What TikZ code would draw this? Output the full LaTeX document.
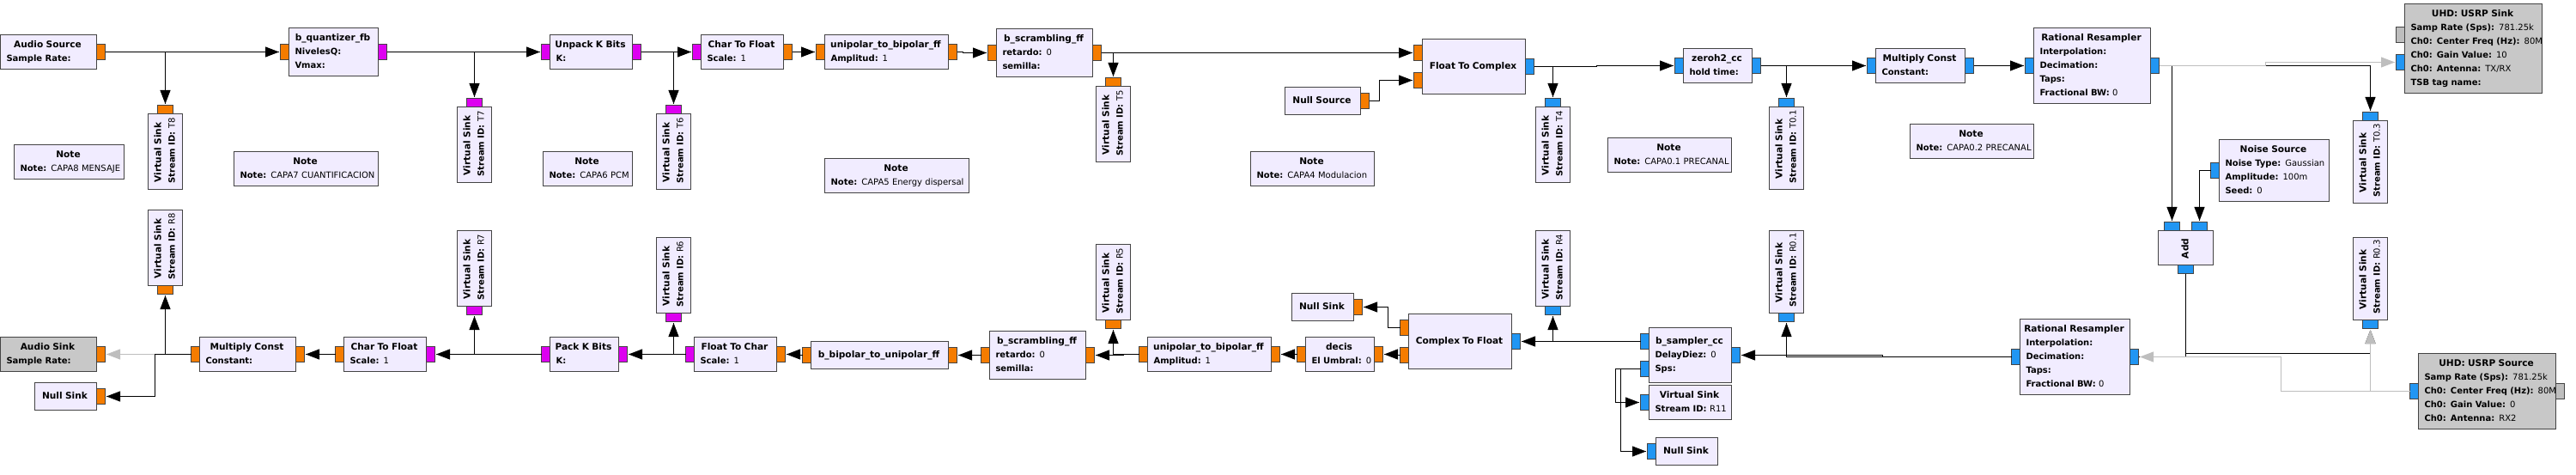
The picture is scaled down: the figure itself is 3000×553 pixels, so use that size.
\documentclass[tikz,border=0pt]{standalone}
\usepackage{fontspec}
\setmainfont{DejaVu Sans}
\usetikzlibrary{shapes,arrows.meta,decorations.markings}
\definecolor{blockColor}{HTML}{F1ECFF}
\definecolor{disabledColor}{HTML}{C8C8C8}
\definecolor{borderColor}{HTML}{444444}
\definecolor{floatColor}{HTML}{F57C00}
\definecolor{byteColor}{HTML}{DD00F0}
\definecolor{complexColor}{HTML}{2196F3}
\definecolor{msgColor}{HTML}{BEBEBE}
\definecolor{wireGrey}{HTML}{BEBEBE}
\newcommand{\blocktitle}[1]{\makebox[\hsize]{\fontsize{10.6}{16}\selectfont\strut\bfseries #1\hspace{2pt}}}
\newcommand{\param}[2]{\mbox{\strut\textbf{#1} #2}}
\tikzstyle{block}=[rectangle, draw=borderColor, fill=blockColor, line width=1pt, inner sep=0pt, outer sep=0pt, align=left, font=\fontsize{10}{16}\selectfont]
\tikzstyle{offblock}=[block, fill=disabledColor]
\tikzstyle{port}=[rectangle, draw=borderColor, line width=1pt, inner sep=0pt, outer sep=0pt, minimum width=10pt, minimum height=18pt]
\tikzstyle{floatport}=[port, fill=floatColor]
\tikzstyle{byteport}=[port, fill=byteColor]
\tikzstyle{complexport}=[port, fill=complexColor]
\tikzstyle{msgport}=[port, fill=msgColor]
\tikzstyle{arrow} = [line width=1pt, shorten >=1.5pt, decoration={markings,mark=at position -1.5pt with
	{\arrow{Triangle[length=16pt,width=12pt]}}},postaction={decorate}]
\tikzset{boxsize/.style 2 args={minimum width=#1pt, minimum height=#2pt, text width=#1pt-14pt}}
\begin{document}
\begin{tikzpicture} [node distance=100pt]
			\useasboundingbox (0,0) rectangle (3000pt,-553pt);
			
			% transmit row
			\node (audioSource) [block, boxsize={112}{40}] at (56.5pt,-60.5pt) {\blocktitle{Audio Source}\\\param{Sample Rate:}{}};
			\node (bQuantizer) [block, boxsize={104}{56}, right of=audioSource, xshift=232pt] {\blocktitle{b\_quantizer\_fb}\\\param{NivelesQ:}{}\\\param{Vmax:}{}};
			\node (unpackK) [block, boxsize={96}{40}, right of=bQuantizer, xshift=200pt] {\blocktitle{Unpack K Bits}\\\param{K:}{}};
			\node (charFloatT) [block, boxsize={96}{40}, right of=unpackK, xshift=76pt] {\blocktitle{Char To Float}\\\param{Scale:}{1}};
			\node (uniBipT) [block, boxsize={144}{40}, right of=charFloatT, xshift=68pt] {\blocktitle{unipolar\_to\_bipolar\_ff}\\\param{Amplitud:}{1}};
			\node (scrambT) [block, boxsize={112}{56}, right of=uniBipT, xshift=84pt, yshift=-1pt] {\blocktitle{b\_scrambling\_ff}\\\param{retardo:}{0}\\\param{semilla:}{}};
			\node (nullSource) [block, boxsize={88}{32}, right of=scrambT, xshift=224pt, yshift=-56pt] {\blocktitle{Null Source}};
			\node (floatComplex) [block, boxsize={120}{64}, right of=scrambT, xshift=400pt, yshift=-16pt] {\blocktitle{Float To Complex}};
			\node (zeroh) [block, boxsize={80}{40}, right of=floatComplex, xshift=184pt, yshift=1pt] {\blocktitle{zeroh2\_cc}\\\param{hold time:}{}};
			\node (multT) [block, boxsize={104}{40}, right of=zeroh, xshift=136pt] {\blocktitle{Multiply Const}\\\param{Constant:}{}};
			\node (resampT) [block, boxsize={136}{88}, right of=multT, xshift=100pt] {\blocktitle{Rational Resampler}\\\param{Interpolation:}{}\\\param{Decimation:}{}\\\param{Taps:}{}\\\param{Fractional BW:}{0}};
			\node (usrpSink) [offblock, boxsize={160}{104}, right of=resampT, xshift=344pt, yshift=20pt] {\blocktitle{UHD: USRP Sink}\\\param{Samp Rate (Sps):}{781.25k}\\\param{Ch0: Center Freq (Hz):}{80M}\\\param{Ch0: Gain Value:}{10}\\\param{Ch0: Antenna:}{TX/RX}\\\param{TSB tag name:}{}};
			\node (noise) [block, boxsize={128}{72}, right of=resampT, xshift=112pt, yshift=-122pt] {\blocktitle{Noise Source}\\\param{Noise Type:}{Gaussian}\\\param{Amplitude:}{100m}\\\param{Seed:}{0}};
			\node (add) [block, boxsize={40}{64}, below of=noise, xshift=-103pt, yshift=10pt, rotate=90] {\blocktitle{Add}};
			
			% transmit probes
			\node (vsT8) [block, boxsize={88}{40}, below of=audioSource, xshift=136pt, yshift=-16pt, rotate=90] {\blocktitle{Virtual Sink}\\\param{Stream ID:}{T8}};
			\node (vsT7) [block, boxsize={88}{40}, below of=bQuantizer, xshift=164pt, yshift=-8pt, rotate=90] {\blocktitle{Virtual Sink}\\\param{Stream ID:}{T7}};
			\node (vsT6) [block, boxsize={88}{40}, below of=unpackK, xshift=96pt, yshift=-16pt, rotate=90] {\blocktitle{Virtual Sink}\\\param{Stream ID:}{T6}};
			\node (vsT5) [block, boxsize={88}{40}, below of=scrambT, xshift=80pt, yshift=17pt, rotate=90] {\blocktitle{Virtual Sink}\\\param{Stream ID:}{T5}};
			\node (vsT4) [block, boxsize={88}{40}, below of=floatComplex, xshift=92pt, yshift=9pt, rotate=90] {\blocktitle{Virtual Sink}\\\param{Stream ID:}{T4}};
			\node (vsT01) [block, boxsize={96}{40}, below of=zeroh, xshift=80pt, yshift=4pt, rotate=90] {\blocktitle{Virtual Sink}\\\param{Stream ID:}{T0.1}};
			\node (vsT03) [block, boxsize={96}{40}, below of=usrpSink, xshift=-120pt, yshift=-32pt, rotate=90] {\blocktitle{Virtual Sink}\\\param{Stream ID:}{T0.3}};
			
			% receive probes
			\node (vsR8) [block, boxsize={88}{40}, below of=vsT8, yshift=-12pt, rotate=90] {\blocktitle{Virtual Sink}\\\param{Stream ID:}{R8}};
			\node (vsR7) [block, boxsize={88}{40}, below of=vsT7, yshift=-44pt, rotate=90] {\blocktitle{Virtual Sink}\\\param{Stream ID:}{R7}};
			\node (vsR6) [block, boxsize={88}{40}, below of=vsT6, yshift=-44pt, rotate=90] {\blocktitle{Virtual Sink}\\\param{Stream ID:}{R6}};
			\node (vsR5) [block, boxsize={88}{40}, below of=vsT5, yshift=-84pt, rotate=90] {\blocktitle{Virtual Sink}\\\param{Stream ID:}{R5}};
			\node (vsR4) [block, boxsize={88}{40}, below of=vsT4, yshift=-44pt, rotate=90] {\blocktitle{Virtual Sink}\\\param{Stream ID:}{R4}};
			\node (vsR01) [block, boxsize={96}{40}, below of=vsT01, yshift=-44pt, rotate=90] {\blocktitle{Virtual Sink}\\\param{Stream ID:}{R0.1}};
			\node (vsR03) [block, boxsize={96}{40}, below of=vsT03, yshift=-36pt, rotate=90] {\blocktitle{Virtual Sink}\\\param{Stream ID:}{R0.3}};
			
			% receive row
			\node (audioSink) [offblock, boxsize={112}{40}, below of=audioSource, yshift=-252pt] {\blocktitle{Audio Sink}\\\param{Sample Rate:}{}};
			\node (nullSinkA) [block, boxsize={72}{32}, below of=audioSink, xshift=20pt, yshift=51pt] {\blocktitle{Null Sink}};
			\node (multB) [block, boxsize={112}{40}, right of=audioSink, xshift=132pt] {\blocktitle{Multiply Const}\\\param{Constant:}{}};
			\node (charFloatB) [block, boxsize={96}{40}, right of=multB, xshift=60pt] {\blocktitle{Char To Float}\\\param{Scale:}{1}};
			\node (packK) [block, boxsize={80}{40}, right of=charFloatB, xshift=132pt] {\blocktitle{Pack K Bits}\\\param{K:}{}};
			\node (floatChar) [block, boxsize={96}{40}, right of=packK, xshift=76pt] {\blocktitle{Float To Char}\\\param{Scale:}{1}};
			\node (biUni) [block, boxsize={160}{32}, right of=floatChar, xshift=68pt, yshift=-1pt] {\blocktitle{b\_bipolar\_to\_unipolar\_ff}};
			\node (scrambB) [block, boxsize={112}{56}, right of=biUni, xshift=84pt] {\blocktitle{b\_scrambling\_ff}\\\param{retardo:}{0}\\\param{semilla:}{}};
			\node (uniBipB) [block, boxsize={144}{40}, right of=scrambB, xshift=100pt, yshift=1pt] {\blocktitle{unipolar\_to\_bipolar\_ff}\\\param{Amplitud:}{1}};
			\node (decis) [block, boxsize={80}{40}, right of=uniBipB, xshift=52pt] {\blocktitle{decis}\\\param{El Umbral:}{0}};
			\node (nullSinkB) [block, boxsize={72}{32}, above of=decis, xshift=-20pt, yshift=-45pt] {\blocktitle{Null Sink}};
			\node (complexFloat) [block, boxsize={120}{64}, right of=decis, xshift=40pt, yshift=15pt] {\blocktitle{Complex To Float}};
			\node (sampler) [block, boxsize={96}{64}, right of=complexFloat, xshift=168pt, yshift=-16pt] {\blocktitle{b\_sampler\_cc}\\\param{DelayDiez:}{0}\\\param{Sps:}{}};
			\node (vsR11) [block, boxsize={96}{40}, below of=sampler, yshift=45pt] {\blocktitle{Virtual Sink}\\\param{Stream ID:}{R11}};
			\node (nullSinkC) [block, boxsize={72}{32}, below of=vsR11, xshift=-4pt, yshift=43pt] {\blocktitle{Null Sink}};
			\node (resampB) [block, boxsize={128}{88}, right of=sampler, xshift=348pt, yshift=-2pt] {\blocktitle{Rational Resampler}\\\param{Interpolation:}{}\\\param{Decimation:}{}\\\param{Taps:}{}\\\param{Fractional BW:}{0}};
			\node (usrpSource) [offblock, boxsize={160}{88}, right of=resampB, xshift=380pt, yshift=-40pt] {\blocktitle{UHD: USRP Source}\\\param{Samp Rate (Sps):}{781.25k}\\\param{Ch0: Center Freq (Hz):}{80M}\\\param{Ch0: Gain Value:}{0}\\\param{Ch0: Antenna:}{RX2}};
			
			% notes
			\node (note8) [block, boxsize={128}{40}, below of=audioSource, xshift=24pt, yshift=-28pt] {\blocktitle{Note}\\\param{Note:}{CAPA8 MENSAJE}};
			\node (note7) [block, boxsize={168}{40}, below of=bQuantizer, xshift=-32pt, yshift=-36pt] {\blocktitle{Note}\\\param{Note:}{CAPA7 CUANTIFICACION}};
			\node (note6) [block, boxsize={104}{40}, below of=unpackK, xshift=-4pt, yshift=-36pt] {\blocktitle{Note}\\\param{Note:}{CAPA6 PCM}};
			\node (note5) [block, boxsize={168}{40}, below of=uniBipT, xshift=12pt, yshift=-44pt] {\blocktitle{Note}\\\param{Note:}{CAPA5 Energy dispersal}};
			\node (note4) [block, boxsize={144}{40}, below of=nullSource, xshift=-12pt, yshift=21pt] {\blocktitle{Note}\\\param{Note:}{CAPA4 Modulacion}};
			\node (note01) [block, boxsize={144}{40}, below of=zeroh, xshift=-56pt, yshift=-4pt] {\blocktitle{Note}\\\param{Note:}{CAPA0.1 PRECANAL}};
			\node (note02) [block, boxsize={144}{40}, below of=multT, xshift=60pt, yshift=12pt] {\blocktitle{Note}\\\param{Note:}{CAPA0.2 PRECANAL}};
			
			% ports of the transmit row
			\node (audioSourceOut) [floatport, anchor=west] at (audioSource.east) {};
			\node (bQuantizerIn) [floatport, anchor=east] at (bQuantizer.west) {};
			\node (bQuantizerOut) [byteport, anchor=west] at (bQuantizer.east) {};
			\node (unpackKIn) [byteport, anchor=east] at (unpackK.west) {};
			\node (unpackKOut) [byteport, anchor=west] at (unpackK.east) {};
			\node (charFloatTIn) [byteport, anchor=east] at (charFloatT.west) {};
			\node (charFloatTOut) [floatport, anchor=west] at (charFloatT.east) {};
			\node (uniBipTIn) [floatport, anchor=east] at (uniBipT.west) {};
			\node (uniBipTOut) [floatport, anchor=west] at (uniBipT.east) {};
			\node (scrambTIn) [floatport, anchor=east] at (scrambT.west) {};
			\node (scrambTOut) [floatport, anchor=west] at (scrambT.east) {};
			\node (nullSourceOut) [floatport, anchor=west] at (nullSource.east) {};
			\node (floatComplexInA) [floatport, anchor=east] at ([yshift=16pt]floatComplex.west) {};
			\node (floatComplexInB) [floatport, anchor=east] at ([yshift=-16pt]floatComplex.west) {};
			\node (floatComplexOut) [complexport, anchor=west] at (floatComplex.east) {};
			\node (zerohIn) [complexport, anchor=east] at (zeroh.west) {};
			\node (zerohOut) [complexport, anchor=west] at (zeroh.east) {};
			\node (multTIn) [complexport, anchor=east] at (multT.west) {};
			\node (multTOut) [complexport, anchor=west] at (multT.east) {};
			\node (resampTIn) [complexport, anchor=east] at (resampT.west) {};
			\node (resampTOut) [complexport, anchor=west] at (resampT.east) {};
			\node (usrpSinkMsg) [msgport, anchor=east] at ([yshift=16pt]usrpSink.west) {};
			\node (usrpSinkIn) [complexport, anchor=east] at ([yshift=-16pt]usrpSink.west) {};
			\node (noiseOut) [complexport, anchor=east] at (noise.west) {};
			\node (addInA) [complexport, rotate=90, anchor=west] at ([xshift=-16pt]add.east) {};
			\node (addInB) [complexport, rotate=90, anchor=west] at ([xshift=16pt]add.east) {};
			\node (addOut) [complexport, rotate=90, anchor=east] at (add.west) {};
			
			% ports of the probes
			\node (vsT8In) [floatport, rotate=90, anchor=west] at (vsT8.east) {};
			\node (vsT7In) [byteport, rotate=90, anchor=west] at (vsT7.east) {};
			\node (vsT6In) [byteport, rotate=90, anchor=west] at (vsT6.east) {};
			\node (vsT5In) [floatport, rotate=90, anchor=west] at (vsT5.east) {};
			\node (vsT4In) [complexport, rotate=90, anchor=west] at (vsT4.east) {};
			\node (vsT01In) [complexport, rotate=90, anchor=west] at (vsT01.east) {};
			\node (vsT03In) [complexport, rotate=90, anchor=west] at (vsT03.east) {};
			\node (vsR8In) [floatport, rotate=90, anchor=east] at (vsR8.west) {};
			\node (vsR7In) [byteport, rotate=90, anchor=east] at (vsR7.west) {};
			\node (vsR6In) [byteport, rotate=90, anchor=east] at (vsR6.west) {};
			\node (vsR5In) [floatport, rotate=90, anchor=east] at (vsR5.west) {};
			\node (vsR4In) [complexport, rotate=90, anchor=east] at (vsR4.west) {};
			\node (vsR01In) [complexport, rotate=90, anchor=east] at (vsR01.west) {};
			\node (vsR03In) [complexport, rotate=90, anchor=east] at (vsR03.west) {};
			
			% ports of the receive row
			\node (audioSinkIn) [floatport, anchor=west] at (audioSink.east) {};
			\node (nullSinkAIn) [floatport, anchor=west] at (nullSinkA.east) {};
			\node (multBOut) [floatport, anchor=east] at (multB.west) {};
			\node (multBIn) [floatport, anchor=west] at (multB.east) {};
			\node (charFloatBOut) [floatport, anchor=east] at (charFloatB.west) {};
			\node (charFloatBIn) [byteport, anchor=west] at (charFloatB.east) {};
			\node (packKOut) [byteport, anchor=east] at (packK.west) {};
			\node (packKIn) [byteport, anchor=west] at (packK.east) {};
			\node (floatCharOut) [byteport, anchor=east] at (floatChar.west) {};
			\node (floatCharIn) [floatport, anchor=west] at (floatChar.east) {};
			\node (biUniOut) [floatport, anchor=east] at (biUni.west) {};
			\node (biUniIn) [floatport, anchor=west] at (biUni.east) {};
			\node (scrambBOut) [floatport, anchor=east] at (scrambB.west) {};
			\node (scrambBIn) [floatport, anchor=west] at (scrambB.east) {};
			\node (uniBipBOut) [floatport, anchor=east] at (uniBipB.west) {};
			\node (uniBipBIn) [floatport, anchor=west] at (uniBipB.east) {};
			\node (decisOut) [floatport, anchor=east] at (decis.west) {};
			\node (decisIn) [floatport, anchor=west] at (decis.east) {};
			\node (nullSinkBIn) [floatport, anchor=west] at (nullSinkB.east) {};
			\node (complexFloatOutA) [floatport, anchor=east] at ([yshift=16pt]complexFloat.west) {};
			\node (complexFloatOutB) [floatport, anchor=east] at ([yshift=-16pt]complexFloat.west) {};
			\node (complexFloatIn) [complexport, anchor=west] at (complexFloat.east) {};
			\node (samplerOutA) [complexport, anchor=east] at ([yshift=16pt]sampler.west) {};
			\node (samplerOutB) [complexport, anchor=east] at ([yshift=-16pt]sampler.west) {};
			\node (samplerIn) [complexport, anchor=west] at (sampler.east) {};
			\node (vsR11In) [complexport, anchor=east] at (vsR11.west) {};
			\node (nullSinkCIn) [complexport, anchor=east] at (nullSinkC.west) {};
			\node (resampBOut) [complexport, anchor=east] at (resampB.west) {};
			\node (resampBIn) [complexport, anchor=west] at (resampB.east) {};
			\node (usrpSourceOut) [complexport, anchor=east] at (usrpSource.west) {};
			\node (usrpSourceMsg) [msgport, anchor=west] at (usrpSource.east) {};
			
			% transmit connections
			\draw [arrow] (audioSourceOut.east) -- (bQuantizerIn.west);
			\draw [arrow] (audioSourceOut.east) -| (vsT8In.east);
			\draw [arrow] (bQuantizerOut.east) -- (unpackKIn.west);
			\draw [arrow] (bQuantizerOut.east) -| (vsT7In.east);
			\draw [arrow] (unpackKOut.east) -- (charFloatTIn.west);
			\draw [arrow] (unpackKOut.east) -| (vsT6In.east);
			\draw [arrow] (charFloatTOut.east) -- (uniBipTIn.west);
			\draw [arrow] (uniBipTOut.east) -- ++(7pt,0) |- (scrambTIn.west);
			\draw [arrow] (scrambTOut.east) -- (floatComplexInA.west);
			\draw [arrow] (scrambTOut.east) -| (vsT5In.east);
			\draw [arrow] (nullSourceOut.east) -- ++(12pt,0) |- (floatComplexInB.west);
			\draw [arrow] (floatComplexOut.east) -- ++(72.5pt,0) |- (zerohIn.west);
			\draw [arrow] (floatComplexOut.east) -| (vsT4In.east);
			\draw [arrow] (zerohOut.east) -- (multTIn.west);
			\draw [arrow] (zerohOut.east) -| (vsT01In.east);
			\draw [arrow] (multTOut.east) -- (resampTIn.west);
			\draw [arrow] (resampTOut.east) -| (addInA.east);
			\draw [arrow] (resampTOut.east) -| (vsT03In.east);
			\draw [arrow] (noiseOut.west) -| (addInB.east);
			\draw [arrow, wireGrey] (resampTOut.east) -- ++(124pt,0) |- (usrpSinkIn.west);
			
			% receive connections
			\draw [arrow] (addOut.west) -- ++(0,-93pt) -| (vsR03In.west);
			\draw [line width=1pt] (addOut.west) |- (resampBIn.east);
			\draw [arrow, wireGrey] (usrpSourceOut.west) -| (vsR03In.west);
			\draw [arrow, wireGrey] (usrpSourceOut.west) -- ++(-150pt,0) |- (resampBIn.east);
			\draw [arrow] (resampBOut.west) -- ++(-150pt,0) |- (samplerIn.east);
			\draw [arrow] (resampBOut.west) -| (vsR01In.west);
			\draw [arrow] (samplerOutA.west) -- (complexFloatIn.east);
			\draw [arrow] (samplerOutA.west) -| (vsR4In.west);
			\draw [arrow] (samplerOutB.west) -- ++(-29pt,0) |- (vsR11In.west);
			\draw [arrow] (samplerOutB.west) -- ++(-23pt,0) |- (nullSinkCIn.west);
			\draw [arrow] (complexFloatOutA.west) -- ++(-14pt,0) |- (nullSinkBIn.east);
			\draw [arrow] (complexFloatOutB.west) -- ++(-3pt,0) |- (decisIn.east);
			\draw [arrow] (decisOut.west) -- (uniBipBIn.east);
			\draw [arrow] (uniBipBOut.west) -- ++(-18pt,0) |- (scrambBIn.east);
			\draw [arrow] (uniBipBOut.west) -| (vsR5In.west);
			\draw [arrow] (scrambBOut.west) -- (biUniIn.east);
			\draw [arrow] (biUniOut.west) -- ++(-3pt,0) |- (floatCharIn.east);
			\draw [arrow] (floatCharOut.west) -- (packKIn.east);
			\draw [arrow] (floatCharOut.west) -| (vsR6In.west);
			\draw [arrow] (packKOut.west) -- (charFloatBIn.east);
			\draw [arrow] (packKOut.west) -| (vsR7In.west);
			\draw [arrow] (charFloatBOut.west) -- (multBIn.east);
			\draw [arrow, wireGrey] (multBOut.west) -- (audioSinkIn.east);
			\draw [arrow] (multBOut.west) -| (vsR8In.west);
			\draw [arrow] (multBOut.west) -- ++(-42pt,0) |- (nullSinkAIn.east);
			
			\end{tikzpicture}
\end{document}
